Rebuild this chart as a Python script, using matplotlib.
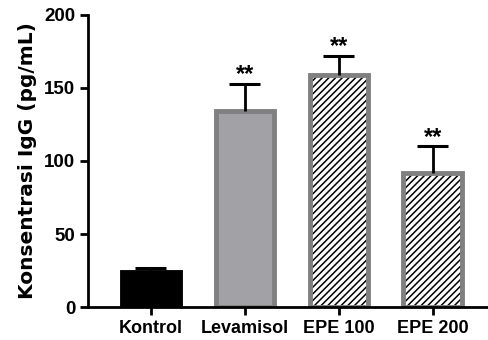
import matplotlib
matplotlib.use("Agg")
import matplotlib.pyplot as plt

plt.rcParams['font.family'] = ['Liberation Sans', 'DejaVu Sans']
plt.rcParams['font.weight'] = 'bold'
plt.rcParams['hatch.linewidth'] = 1.1

categories = ["Kontrol", "Levamisol", "EPE 100", "EPE 200"]
means = [24, 134, 159, 92]
errors = [3, 19, 13, 18]
stars = ["", "**", "**", "**"]
fills = ["black", "#a2a2a6", "white", "white"]
edges = ["black", "#808080", "#808080", "#808080"]
hatches = [None, None, "/////", "/////"]

fig = plt.figure(figsize=(4.88, 3.4), dpi=100)
ax = fig.add_axes([0.18, 0.097, 0.82, 0.859])

x = list(range(len(categories)))
bw = 0.62
cap = 0.165
for i in x:
    if hatches[i]:
        ax.bar(i, means[i], width=bw, color=fills[i], edgecolor="black",
               linewidth=0, hatch=hatches[i], zorder=2)
        ax.bar(i, means[i], width=bw, fill=False, edgecolor=edges[i],
               linewidth=3.5, zorder=2.5)
    else:
        ax.bar(i, means[i], width=bw, color=fills[i], edgecolor=edges[i],
               linewidth=3.5, zorder=2)
    top = means[i] + errors[i]
    ax.plot([i, i], [means[i], top], color="black", lw=2, zorder=3, solid_capstyle="butt")
    ax.plot([i - cap, i + cap], [top, top], color="black", lw=2.2, zorder=3, solid_capstyle="butt")
    if stars[i]:
        ax.text(i, top - 1.5, stars[i], ha="center", va="bottom",
                fontsize=17, fontweight="bold")

ax.set_xlim(-0.67, 3.59)
ax.set_ylim(0, 200)
ax.set_yticks([0, 50, 100, 150, 200])
ax.set_xticks(x)
ax.set_xticklabels(categories, fontsize=13)
ax.set_ylabel("Konsentrasi IgG (pg/mL)", fontsize=14.5, fontweight="bold",
              family="DejaVu Sans", labelpad=5)
ax.tick_params(axis="y", labelsize=13.5)
ax.tick_params(axis="both", width=2, length=6, direction="out", pad=3)
for s in ["top", "right"]:
    ax.spines[s].set_visible(False)
for s in ["left", "bottom"]:
    ax.spines[s].set_linewidth(2)
for lbl in ax.get_xticklabels() + ax.get_yticklabels():
    lbl.set_fontweight("bold")

fig.savefig("out.png", dpi=100)
